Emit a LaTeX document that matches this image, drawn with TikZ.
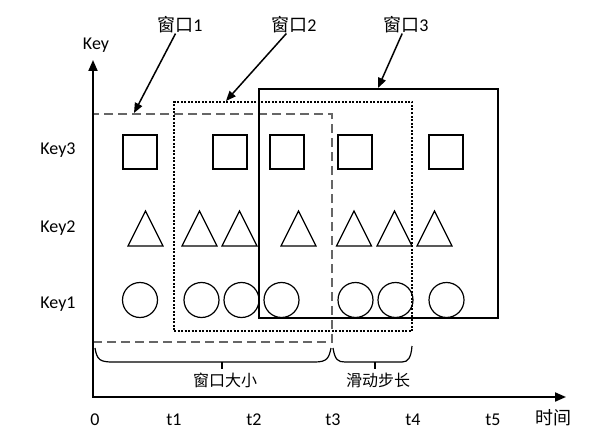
\documentclass[tikz,border=0pt]{standalone}
\usepackage{fontspec}
\setmainfont{Carlito}
\newfontfamily\cjk{Noto Sans CJK SC}
\usetikzlibrary{arrows.meta}
\begin{document}
\begin{tikzpicture}[x=1pt,y=-1pt,
  lbl/.style={font=\fontsize{18}{20}\selectfont, inner sep=0},
  sq/.style={draw, rectangle, line width=1.2pt, minimum size=34pt, inner sep=0},
  cir/.style={draw, circle, line width=1.2pt, minimum size=35pt, inner sep=0},
  axis/.style={line width=2pt, {Triangle[length=11pt,width=9pt]}-{Triangle[length=11pt,width=9pt]}},
  ptr/.style={line width=1.5pt, -{Triangle[length=10pt,width=8pt]}},
  win1/.style={draw=black!60, line width=2pt, dash pattern=on 9pt off 5pt, rectangle, inner sep=0},
  win2/.style={draw, line width=1.6pt, dash pattern=on 2pt off 1.5pt, rectangle, inner sep=0},
  win3/.style={draw, line width=1.5pt, rectangle, inner sep=0},
  bracestyle/.style={line width=1.2pt},
  tri/.pic={\draw[line width=1.2pt] (-17.5,17.5) -- (0,-17.5) -- (17.5,17.5) -- cycle;}]
\useasboundingbox (0,0) rectangle (600,444);
% windows
\node (w1) [win1, minimum width=239pt, minimum height=228pt] at (212.5,228) {};
\node (w2) [win2, minimum width=238pt, minimum height=229pt] at (293,216.5) {};
\node (w3) [win3, minimum width=239pt, minimum height=229pt] at (378.5,203.5) {};
% axes
\coordinate (O) at (93,397);
\coordinate (Ytop) at (93,60);
\coordinate (Xend) at (566,397);
\draw[axis] (Ytop) -- (O) -- (Xend);
\node[lbl] (ylab) at (96,45) {Key};
\node[lbl, font=\cjk\fontsize{18}{20}\selectfont] (xlab) at (553,418) {时间};
% key labels
\node[lbl] (k3) at (58,150) {Key3};
\node[lbl] (k2) at (58,228) {Key2};
\node[lbl] (k1) at (58,304) {Key1};
% time labels
\node[lbl] (t0) at (95,420) {0};
\node[lbl] (t1) at (174,420) {t1};
\node[lbl] (t2) at (254,420) {t2};
\node[lbl] (t3) at (333,420) {t3};
\node[lbl] (t4) at (413,420) {t4};
\node[lbl] (t5) at (493,420) {t5};
% squares
\node[sq] (s1) at (140,152) {};
\node[sq] (s2) at (230,152) {};
\node[sq] (s3) at (287,152) {};
\node[sq] (s4) at (355,152) {};
\node[sq] (s5) at (446,152) {};
% triangles
\pic at (145.5,228.5) {tri};
\pic at (199.5,228.5) {tri};
\pic at (239.5,228.5) {tri};
\pic at (298.5,228.5) {tri};
\pic at (354,228.5) {tri};
\pic at (394.5,228.5) {tri};
\pic at (434.5,228.5) {tri};
% circles
\node[cir] (c1) at (140,300) {};
\node[cir] (c2) at (201.5,300) {};
\node[cir] (c3) at (241.5,300) {};
\node[cir] (c4) at (281.5,300) {};
\node[cir] (c5) at (355.5,300) {};
\node[cir] (c6) at (395.5,300) {};
\node[cir] (c7) at (446.5,300) {};
% window labels and pointers
\node[lbl] (l1) at (180,25) {{\cjk 窗口}1};
\node[lbl] (l2) at (294,25) {{\cjk 窗口}2};
\node[lbl] (l3) at (406,25) {{\cjk 窗口}3};
\coordinate (p1) at (134,113);
\coordinate (p2) at (226,101);
\coordinate (p3) at (378,88);
\draw[ptr] (l1) -- (p1);
\draw[ptr] (l2) -- (p2);
\draw[ptr] (l3) -- (p3);
% braces
\draw[bracestyle] (95,348) .. controls (97,360) and (100,362) .. (113,362) -- (315,362) .. controls (327,362) and (329,358) .. (331,348);
\draw[bracestyle] (222,362) -- (222,369);
\draw[bracestyle] (333,348) .. controls (335,360) and (338,362) .. (345,362) -- (402,362) .. controls (408,362) and (411,358) .. (412,346);
\draw[bracestyle] (375,362) -- (375,369);
\node[lbl, font=\cjk\fontsize{16}{18}\selectfont] (b1) at (225,380) {窗口大小};
\node[lbl, font=\cjk\fontsize{16}{18}\selectfont] (b2) at (378,380) {滑动步长};
\end{tikzpicture}
\end{document}
